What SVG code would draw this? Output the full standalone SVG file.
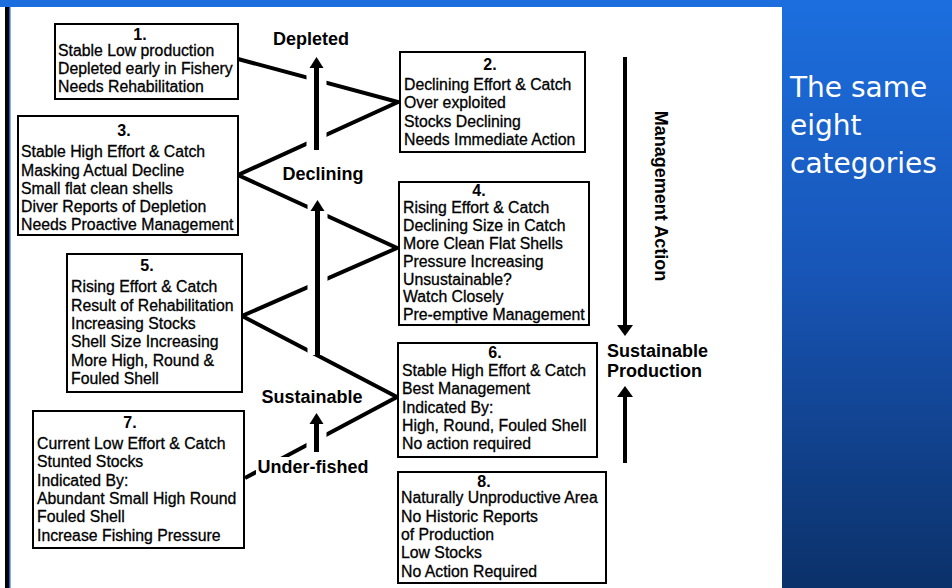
<svg xmlns="http://www.w3.org/2000/svg" width="952" height="588" viewBox="0 0 952 588">
<defs>
<linearGradient id="bg" x1="0" y1="0" x2="0" y2="1">
<stop offset="0" stop-color="#1c6ede"/>
<stop offset="0.45" stop-color="#1856b8"/>
<stop offset="1" stop-color="#0b3169"/>
</linearGradient>
<style>
.box{fill:#fff;stroke:#000;stroke-width:2}
.t{font-family:"Liberation Sans",Arial,sans-serif;font-size:15.8px;fill:#000;stroke:#000;stroke-width:0.3}
.n{font-family:"Liberation Sans",Arial,sans-serif;font-size:16px;font-weight:bold;fill:#000;text-anchor:middle}
.lb{font-family:"Liberation Sans",Arial,sans-serif;font-size:18px;font-weight:bold;fill:#000}
.ln{stroke:#000;stroke-width:4;fill:none;stroke-linecap:butt}
.halo{stroke:#fff;stroke-width:20;fill:none}
.sh{stroke:#000;stroke-width:5;fill:none}
.side{font-family:"DejaVu Sans",Verdana,sans-serif;font-size:28px;fill:#fff}
</style>
</defs>
<rect x="0" y="0" width="952" height="588" fill="url(#bg)"/>
<rect x="0" y="7" width="782" height="581" fill="#fff"/>
<rect x="5" y="7" width="4" height="581" fill="#000"/>
<rect x="9" y="7" width="1.5" height="581" fill="#1c5ec8"/>

<g id="sidetext">
<text class="side" x="790" y="97">The same</text>
<text class="side" x="790" y="135">eight</text>
<text class="side" x="790" y="173">categories</text>
</g>

<g id="connectors">
<polyline class="ln" points="238,59 398,102 238,175 397,248 242,316 397,397 245,478"/>
<line class="halo" x1="316.5" y1="62" x2="316.5" y2="150"/>
<line class="halo" x1="317.5" y1="205" x2="317.5" y2="355"/>
<line class="halo" x1="316.5" y1="418" x2="316.5" y2="452"/>
<rect x="256" y="457" width="114" height="24" fill="#fff"/>
<line class="sh" x1="316.5" y1="66" x2="316.5" y2="150"/>
<polygon points="316.5,57 309.5,68 323.5,68" fill="#000"/>
<line class="sh" x1="317.5" y1="209" x2="317.5" y2="355"/>
<polygon points="317.5,200 310.5,211 324.5,211" fill="#000"/>
<line class="sh" x1="316.5" y1="422" x2="316.5" y2="452"/>
<polygon points="316.5,413 309.5,424 323.5,424" fill="#000"/>
<line x1="625" y1="57" x2="625" y2="327" stroke="#000" stroke-width="4"/>
<polygon points="625,336 617,325 633,325" fill="#000"/>
<line x1="625" y1="395" x2="625" y2="463" stroke="#000" stroke-width="4"/>
<polygon points="625,386 617,397 633,397" fill="#000"/>
</g>

<g id="labels">
<text class="lb" x="311" y="45" text-anchor="middle">Depleted</text>
<text class="lb" x="323" y="180" text-anchor="middle">Declining</text>
<text class="lb" x="312" y="403" text-anchor="middle">Sustainable</text>
<text class="lb" x="313" y="473" text-anchor="middle">Under-fished</text>
<text class="lb" x="607" y="357">Sustainable</text>
<text class="lb" x="607" y="377">Production</text>
<text class="lb" transform="translate(655,196) rotate(90)" text-anchor="middle">Management Action</text>
</g>

<g id="box1">
<rect class="box" x="55" y="24" width="183" height="75"/>
<text class="n" x="140" y="40">1.</text>
<text class="t" x="58" y="56">Stable Low production</text>
<text class="t" x="58" y="74">Depleted early in Fishery</text>
<text class="t" x="58" y="92">Needs Rehabilitation</text>
</g>

<g id="box2">
<rect class="box" x="400" y="52" width="185" height="100"/>
<text class="n" x="490" y="70">2.</text>
<text class="t" x="404" y="90">Declining Effort &amp; Catch</text>
<text class="t" x="404" y="108">Over exploited</text>
<text class="t" x="404" y="127">Stocks Declining</text>
<text class="t" x="404" y="145">Needs Immediate Action</text>
</g>

<g id="box3">
<rect class="box" x="18" y="116" width="220" height="119"/>
<text class="n" x="124" y="136">3.</text>
<text class="t" x="21" y="157">Stable High Effort &amp; Catch</text>
<text class="t" x="21" y="176">Masking Actual Decline</text>
<text class="t" x="21" y="194">Small flat clean shells</text>
<text class="t" x="21" y="212">Diver Reports of Depletion</text>
<text class="t" x="21" y="230">Needs Proactive Management</text>
</g>

<g id="box4">
<rect class="box" x="399" y="182" width="190" height="143"/>
<text class="n" x="479" y="196">4.</text>
<text class="t" x="403" y="213">Rising Effort &amp; Catch</text>
<text class="t" x="403" y="231">Declining Size in Catch</text>
<text class="t" x="403" y="249">More Clean Flat Shells</text>
<text class="t" x="403" y="267">Pressure Increasing</text>
<text class="t" x="403" y="285">Unsustainable?</text>
<text class="t" x="403" y="302">Watch Closely</text>
<text class="t" x="403" y="320">Pre-emptive Management</text>
</g>

<g id="box5">
<rect class="box" x="67" y="254" width="175" height="138"/>
<text class="n" x="147" y="271">5.</text>
<text class="t" x="71" y="292">Rising Effort &amp; Catch</text>
<text class="t" x="71" y="311">Result of Rehabilitation</text>
<text class="t" x="71" y="329">Increasing Stocks</text>
<text class="t" x="71" y="347">Shell Size Increasing</text>
<text class="t" x="71" y="366">More High, Round &amp;</text>
<text class="t" x="71" y="384">Fouled Shell</text>
</g>

<g id="box6">
<rect class="box" x="398" y="343" width="199" height="114"/>
<text class="n" x="495" y="358">6.</text>
<text class="t" x="402" y="376">Stable High Effort &amp; Catch</text>
<text class="t" x="402" y="394">Best Management</text>
<text class="t" x="402" y="413">Indicated By:</text>
<text class="t" x="402" y="431">High, Round, Fouled Shell</text>
<text class="t" x="402" y="449">No action required</text>
</g>

<g id="box7">
<rect class="box" x="33" y="411" width="211" height="137"/>
<text class="n" x="130" y="428">7.</text>
<text class="t" x="37" y="449">Current Low Effort &amp; Catch</text>
<text class="t" x="37" y="467">Stunted Stocks</text>
<text class="t" x="37" y="486">Indicated By:</text>
<text class="t" x="37" y="504">Abundant Small High Round</text>
<text class="t" x="37" y="522">Fouled Shell</text>
<text class="t" x="37" y="541">Increase Fishing Pressure</text>
</g>

<g id="box8">
<rect class="box" x="398" y="472" width="208" height="111"/>
<text class="n" x="484" y="487">8.</text>
<text class="t" x="401" y="503">Naturally Unproductive Area</text>
<text class="t" x="401" y="522">No Historic Reports</text>
<text class="t" x="401" y="540">of Production</text>
<text class="t" x="401" y="558">Low Stocks</text>
<text class="t" x="401" y="577">No Action Required</text>
</g>
</svg>
